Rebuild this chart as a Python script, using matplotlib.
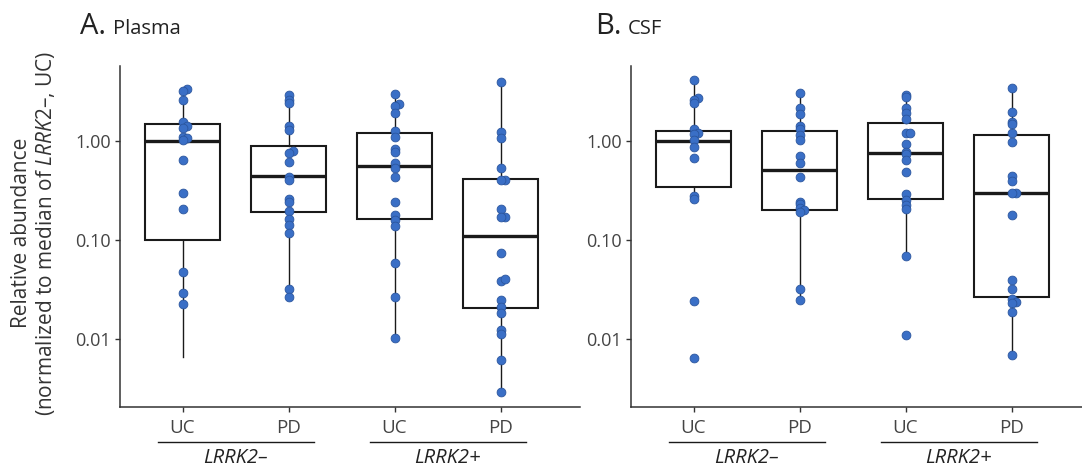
import numpy as np
import matplotlib
matplotlib.use("Agg")
import matplotlib.pyplot as plt
from matplotlib.transforms import blended_transform_factory

plt.rcParams["font.family"] = ["Open Sans", "DejaVu Sans"]
plt.rcParams["mathtext.fontset"] = "custom"
plt.rcParams["mathtext.rm"] = "Open Sans"
plt.rcParams["mathtext.it"] = "Open Sans:italic"

# categories
conditions = ["UC", "PD", "UC", "PD"]
groups = ["LRRK2\u2013", "LRRK2+"]

# plasma values
plasma_neg_uc = [3.33, 3.2, 2.6, 1.57, 1.42, 1.36, 1.10, 1.06, 1.02, 0.64, 0.30, 0.204,
                 0.047, 0.029, 0.0227]
plasma_neg_pd = [2.94, 2.6, 2.40, 1.42, 1.29, 0.79, 0.76, 0.62, 0.436, 0.40, 0.257, 0.242,
                 0.198, 0.163, 0.142, 0.117, 0.0318, 0.0264]
plasma_pos_uc = [2.96, 2.35, 2.26, 1.93, 1.26, 1.10, 0.84, 0.78, 0.60, 0.53, 0.43, 0.244,
                 0.179, 0.159, 0.138, 0.059, 0.0267, 0.0102]
plasma_pos_pd = [3.97, 1.24, 1.06, 0.54, 0.40, 0.40, 0.204, 0.17, 0.17, 0.0744, 0.0385,
                 0.040, 0.0248, 0.0209, 0.0185, 0.0123, 0.0112, 0.0062, 0.0029]

plasma_q1 = [0.10, 0.19, 0.162, 0.0204]
plasma_med = [1.00, 0.446, 0.56, 0.111]
plasma_q3 = [1.48, 0.90, 1.21, 0.413]
plasma_lo = [0.0066, 0.0264, 0.0102, 0.0029]
plasma_hi = [3.33, 2.94, 2.96, 3.97]

# CSF values
csf_neg_uc = [4.13, 2.70, 2.60, 2.44, 1.31, 1.21, 1.18, 1.02, 0.875, 0.668, 0.28, 0.26,
              0.0244, 0.0064]
csf_neg_pd = [3.03, 2.14, 1.86, 1.42, 1.31, 1.15, 1.02, 0.705, 0.60, 0.43, 0.244, 0.231,
              0.209, 0.201, 0.192, 0.0322, 0.0248]
csf_pos_uc = [2.91, 2.76, 2.14, 1.90, 1.66, 1.21, 1.21, 0.926, 0.78, 0.74, 0.643, 0.483,
              0.29, 0.254, 0.226, 0.204, 0.069, 0.011]
csf_pos_pd = [3.41, 1.98, 1.57, 1.48, 1.21, 0.984, 0.443, 0.397, 0.30, 0.30, 0.178,
              0.0394, 0.0318, 0.0252, 0.0238, 0.023, 0.0187, 0.0069]

csf_q1 = [0.343, 0.201, 0.258, 0.0267]
csf_med = [1.00, 0.51, 0.76, 0.30]
csf_q3 = [1.27, 1.27, 1.52, 1.15]
csf_lo = [0.26, 0.0248, 0.069, 0.0069]
csf_hi = [4.13, 3.03, 2.91, 3.41]

y_ticks = [0.01, 0.10, 1.00]
y_tick_labels = ["0.01", "0.10", "1.00"]

DOT = "#3a6fc6"
DOT_EDGE = "#2b569e"
INK = "#1a1a1a"
AXIS = "#333333"


def swarm_offsets(values, thresh=0.02, step=0.04):
    # small horizontal dodge for points that sit almost on top of each other
    logv = np.log10(values)
    order = np.argsort(logv)
    offs = np.zeros(len(values))
    placed = []
    for i in order:
        for cand in [0.0, step, -step, 2 * step, -2 * step]:
            clash = any(abs(logv[i] - ly) < thresh and abs(cand - ox) < step * 0.9
                        for ly, ox in placed)
            if not clash:
                offs[i] = cand
                break
        placed.append((logv[i], offs[i]))
    return offs


def draw_panel(ax, series, q1, med, q3, lo, hi):
    stats = []
    for k in range(len(series)):
        stats.append(dict(q1=q1[k], med=med[k], q3=q3[k], whislo=lo[k], whishi=hi[k],
                          fliers=[]))
    ax.bxp(stats, positions=range(len(series)), widths=0.7, showfliers=False,
           showcaps=False, patch_artist=True,
           boxprops=dict(facecolor="none", edgecolor=INK, linewidth=1.5),
           medianprops=dict(color=INK, linewidth=2.4, solid_capstyle="butt"),
           whiskerprops=dict(color=INK, linewidth=1.0))
    for k, vals in enumerate(series):
        x = k + swarm_offsets(vals)
        ax.scatter(x, vals, s=40, color=DOT, edgecolor=DOT_EDGE, linewidth=0.6, zorder=3)

    ax.set_yscale("log")
    ax.set_ylim(0.00206, 5.72)
    ax.set_xlim(-0.59, 3.75)
    ax.set_yticks(y_ticks)
    ax.set_yticklabels(y_tick_labels)
    ax.yaxis.set_minor_locator(matplotlib.ticker.NullLocator())
    ax.set_xticks(range(len(conditions)))
    ax.set_xticklabels(conditions)
    for side in ["top", "right"]:
        ax.spines[side].set_visible(False)
    for side in ["left", "bottom"]:
        ax.spines[side].set_color(AXIS)
        ax.spines[side].set_linewidth(1.1)
    ax.tick_params(axis="both", colors=AXIS, length=3.5, width=1.0, labelcolor="#444444")
    ax.tick_params(axis="y", labelsize=13, pad=3)
    ax.tick_params(axis="x", labelsize=13.5, pad=5)

    # group underline and italic group labels
    tr = blended_transform_factory(ax.transData, fig.transFigure)
    for g, name in enumerate(groups):
        c = 2 * g + 0.5
        ax.plot([c - 0.735, c + 0.745], [0.0562, 0.0562], transform=tr, color=INK,
                linewidth=1.0, clip_on=False)
        ax.text(c, 0.0215, name, transform=tr, ha="center", va="center",
                fontsize=14.5, style="italic", color="#222222")


W, H = 1082, 468
fig = plt.figure(figsize=(W / 100, H / 100), dpi=100)

ax1 = fig.add_axes([120 / W, 61 / H, 460 / W, 341 / H])
draw_panel(ax1, [plasma_neg_uc, plasma_neg_pd, plasma_pos_uc, plasma_pos_pd],
           plasma_q1, plasma_med, plasma_q3, plasma_lo, plasma_hi)

ax2 = fig.add_axes([631 / W, 61 / H, 460 / W, 341 / H])
draw_panel(ax2, [csf_neg_uc, csf_neg_pd, csf_pos_uc, csf_pos_pd],
           csf_q1, csf_med, csf_q3, csf_lo, csf_hi)

# panel titles
fig.text(80 / W, 1 - 34 / H, "A.", fontsize=21, color="#222222", va="baseline")
fig.text(113 / W, 1 - 34 / H, "Plasma", fontsize=14.5, color="#222222", va="baseline")
fig.text(595 / W, 1 - 34 / H, "B.", fontsize=21, color="#222222", va="baseline")
fig.text(628 / W, 1 - 34 / H, "CSF", fontsize=14.5, color="#222222", va="baseline")

# y axis label, two lines
fig.text(22 / W, 1 - 233 / H, "Relative abundance", rotation=90, fontsize=15,
         ha="center", va="center", color="#333333")
fig.text(46 / W, 1 - 233 / H, "(normalized to median of $\\it{LRRK2}$\u2013, UC)",
         rotation=90, fontsize=15, ha="center", va="center", color="#333333")

fig.savefig("out.png", dpi=100)
